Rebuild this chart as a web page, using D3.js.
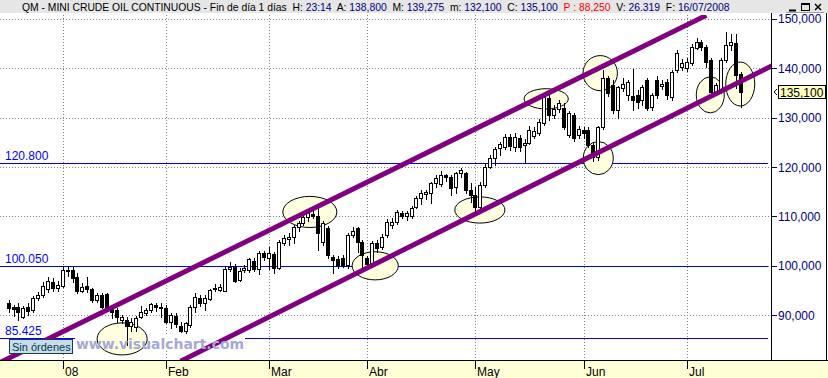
<!DOCTYPE html>
<html>
<head>
<meta charset="utf-8">
<script src="https://d3js.org/d3.v7.min.js"></script>
<style>
  html, body { margin: 0; padding: 0; background: #fff; }
  svg { display: block; }
</style>
</head>
<body>
<div id="chart"></div>
<script>
// Daily bars, Dec 2007 .. 16/07/2008 (index 0 = first visible December bar)
const opens = [92.4, 91.6, 91.6, 89.6, 91.6, 91.0, 93.4, 94.0, 95.4, 96.7, 95.6,
  96.0, 99.0, 99.1, 97.7, 95.0, 96.0, 95.4, 93.0, 94.0, 94.2,
  91.6, 91.0, 89.0, 89.0, 87.9, 87.6, 89.6, 90.4, 91.0, 92.0,
  91.6, 91.4, 88.6, 89.8, 87.9, 86.9, 88.0, 91.6, 93.4, 92.4,
  93.2, 95.4, 95.2, 95.0, 99.4, 99.8, 97.1, 99.1, 99.2, 101.0,
  99.4, 102.5, 101.5, 102.3, 99.6, 104.6, 105.4, 105.8, 107.8, 108.6,
  109.8, 110.4, 110.0, 104.8, 107.6, 101.7, 101.4, 101.6, 100.1, 106.2,
  107.6, 104.8, 101.5, 100.5, 104.6, 103.8, 106.2, 108.2, 108.8, 110.6,
  110.0, 110.0, 112.0, 113.8, 114.6, 114.8, 116.8, 116.6, 118.4, 118.0,
  115.9, 118.8, 118.8, 115.3, 114.3, 112.0, 116.3, 120.0, 121.8, 123.8,
  124.0, 126.0, 124.0, 125.8, 124.4, 124.9, 126.2, 126.9, 128.9, 134.0,
  130.5, 131.7, 132.0, 126.5, 130.5, 126.5, 127.5, 127.5, 124.4, 122.0,
  128.1, 138.0, 136.6, 131.5, 135.9, 134.6, 134.4, 134.6, 133.6, 137.6,
  132.2, 137.6, 136.4, 137.2, 134.2, 139.7, 140.3, 140.1, 141.1, 144.1,
  145.3, 144.3, 141.7, 135.2, 135.4, 141.7, 144.7, 145.1, 138.8];
const highs = [93.0, 92.0, 92.4, 91.8, 92.4, 93.8, 94.6, 96.7, 97.7, 97.5, 97.0,
  99.9, 100.05, 99.7, 98.5, 96.5, 97.7, 95.6, 94.4, 94.4, 94.4,
  92.0, 91.4, 90.0, 89.6, 89.4, 89.8, 91.8, 91.4, 92.4, 92.4,
  92.4, 92.0, 90.4, 90.4, 88.6, 88.6, 92.0, 94.4, 94.0, 94.0,
  95.4, 96.4, 96.4, 99.9, 100.7, 100.4, 99.6, 100.2, 101.5, 101.5,
  103.0, 103.0, 103.8, 102.8, 105.2, 106.2, 106.6, 108.2, 109.0, 110.2,
  111.0, 111.3, 111.8, 109.0, 108.0, 102.1, 102.0, 102.1, 106.6, 107.8,
  107.8, 105.2, 102.0, 105.0, 105.2, 106.4, 109.4, 109.6, 111.2, 111.0,
  111.0, 112.2, 114.2, 115.4, 115.4, 117.0, 118.4, 119.2, 118.6, 118.4,
  119.0, 119.8, 119.0, 116.7, 115.9, 116.9, 120.6, 122.4, 124.0, 125.0,
  126.7, 126.6, 126.9, 126.4, 125.6, 128.4, 128.0, 129.8, 134.6, 135.0,
  132.6, 133.6, 133.0, 131.4, 131.0, 128.3, 128.0, 128.0, 125.0, 128.3,
  139.6, 138.4, 137.6, 136.4, 138.0, 137.6, 139.9, 135.6, 136.6, 138.0,
  135.0, 138.4, 137.6, 137.8, 139.6, 143.6, 141.9, 142.1, 144.8, 146.1,
  145.7, 144.7, 142.1, 137.0, 142.1, 147.3, 147.0, 147.0, 139.275];
const lows = [90.6, 89.8, 89.0, 89.4, 90.0, 90.6, 93.0, 93.6, 94.6, 95.0, 94.8,
  95.8, 97.9, 96.7, 94.4, 94.6, 94.6, 92.6, 92.6, 91.4, 91.0,
  89.4, 88.6, 88.4, 83.9, 86.9, 86.9, 89.4, 90.0, 90.6, 90.8,
  89.6, 88.4, 87.5, 87.6, 86.5, 86.3, 87.7, 90.6, 91.8, 91.0,
  93.0, 95.0, 94.8, 94.8, 99.0, 96.7, 96.9, 98.7, 98.7, 98.9,
  98.4, 101.2, 99.4, 98.6, 99.4, 104.2, 104.2, 104.6, 107.0, 108.2,
  109.0, 109.6, 103.2, 104.2, 101.6, 98.5, 99.6, 99.7, 99.6, 105.8,
  102.7, 99.1, 99.6, 99.8, 102.8, 103.4, 105.8, 107.6, 108.4, 109.6,
  109.2, 109.6, 111.6, 112.6, 113.6, 112.8, 116.0, 116.2, 117.2, 114.3,
  114.7, 118.0, 114.7, 112.9, 110.2, 111.3, 115.9, 119.8, 120.4, 122.4,
  123.6, 123.4, 123.2, 123.2, 120.8, 124.6, 125.8, 126.5, 128.5, 129.6,
  129.9, 131.2, 127.7, 126.1, 125.3, 125.9, 125.9, 124.0, 121.2, 121.4,
  127.7, 134.4, 131.0, 130.0, 135.4, 133.6, 131.5, 131.9, 132.6, 131.5,
  131.5, 134.0, 135.8, 133.8, 133.6, 139.2, 139.7, 139.5, 140.7, 143.9,
  143.7, 140.3, 134.4, 134.8, 135.0, 141.3, 143.7, 136.0, 132.1];
const closes = [91.4, 91.2, 90.6, 91.4, 90.8, 93.4, 94.0, 96.0, 96.9, 95.6, 96.2,
  99.1, 99.2, 97.5, 95.0, 95.8, 95.4, 93.0, 94.0, 91.6, 91.4,
  90.6, 89.6, 89.6, 87.9, 88.6, 89.4, 90.6, 91.0, 92.2, 91.6,
  91.4, 88.6, 90.0, 88.2, 86.9, 88.4, 91.6, 93.6, 92.4, 93.4,
  95.2, 95.6, 95.8, 99.4, 99.8, 97.0, 99.0, 99.6, 101.3, 99.4,
  102.5, 101.7, 102.5, 99.6, 104.8, 105.6, 105.8, 107.8, 108.6, 109.8,
  110.6, 110.0, 106.6, 108.6, 102.1, 101.1, 100.1, 100.2, 106.2, 107.0,
  104.8, 102.1, 100.4, 104.6, 103.6, 105.8, 108.8, 108.8, 110.9, 110.0,
  110.6, 111.8, 113.8, 114.8, 115.0, 116.8, 117.8, 118.4, 118.0, 115.7,
  118.8, 119.4, 115.3, 114.3, 111.9, 116.4, 120.0, 121.8, 123.6, 124.6,
  126.0, 124.2, 126.0, 124.0, 124.8, 127.5, 127.2, 129.1, 134.2, 130.5,
  131.7, 133.0, 128.1, 130.9, 125.9, 127.7, 126.9, 124.4, 122.0, 128.1,
  138.0, 135.0, 131.5, 136.2, 136.8, 137.2, 133.6, 133.2, 136.2, 131.9,
  134.6, 134.6, 136.8, 134.6, 139.2, 143.1, 141.1, 141.3, 144.3, 145.3,
  144.3, 141.3, 135.2, 136.6, 141.7, 144.7, 145.3, 138.6, 135.1];

const monthTickIndex = [11, 32, 53, 73, 95, 117, 138];
const monthLabels = ["08", "Feb", "Mar", "Abr", "May", "Jun", "Jul"];
const priceTicks = [90, 100, 110, 120, 130, 140, 150];
const levelValues = [120.8, 100.05, 85.425];
const levelLabels = ["120.800", "100.050", "85.425"];
// channel anchors: [bar index, price]
const upperChannel = [[-2, 80.3], [142, 150.7]];
const lowerChannel = [[35, 80.7], [156, 140.8]];
// marked zones: [bar index, price, half width in bars, half height in price]
const zones = [[23.1, 85.2, 5.1, 3.25], [61.3, 110.9, 5.5, 3.15], [74.6, 100.0, 4.7, 2.85],
  [95.9, 111.3, 5.1, 2.65], [109.4, 133.8, 4.5, 2.05], [120.4, 139.0, 3.5, 3.55],
  [120.0, 121.8, 3.05, 3.35], [142.8, 134.6, 2.85, 3.65], [148.9, 136.8, 2.95, 4.45]];
const lastPrice = 135.1;
const headerParts = [
  ["QM - MINI CRUDE OIL CONTINUOUS - Fin de día 1 días  H: ", "#000"], ["23:14", "#000080"],
  ["  A: ", "#000"], ["138,800", "#000080"], ["  M: ", "#000"], ["139,275", "#000080"],
  ["  m: ", "#000"], ["132,100", "#000080"], ["  C: ", "#000"], ["135,100", "#000080"],
  ["  P : 88,250", "#ff0000"], ["  V: ", "#000"], ["26.319", "#000080"],
  ["  F: ", "#000"], ["16/07/2008", "#000080"]];

const width = 828, height = 378;
const plot = { left: 0, right: 771, top: 15, bottom: 360 };
const font = "'Liberation Sans', Arial, sans-serif";
const fmt = v => d3.format(".3f")(v).replace(".", ",");

const x = d3.scaleLinear().domain([11, 138]).range([62.7, 686.7]);
const y = d3.scaleLinear().domain([80, 150]).range([364.6, 18.8]);

const svg = d3.select("#chart").append("svg")
  .attr("width", width).attr("height", height)
  .style("font-family", font);

svg.append("rect").attr("width", width).attr("height", height).attr("fill", "#fff");

svg.append("clipPath").attr("id", "plot-clip")
  .append("rect")
  .attr("x", plot.left).attr("y", plot.top)
  .attr("width", plot.right - plot.left).attr("height", plot.bottom - plot.top);

const g = svg.append("g").attr("clip-path", "url(#plot-clip)");

// dotted grid
g.selectAll(".hgrid").data(priceTicks).join("line")
  .attr("x1", plot.left).attr("x2", plot.right)
  .attr("y1", d => Math.round(y(d)) + 0.5).attr("y2", d => Math.round(y(d)) + 0.5)
  .attr("stroke", "#808080").attr("stroke-dasharray", "1,2");
g.selectAll(".vgrid").data(monthTickIndex).join("line")
  .attr("x1", d => Math.round(x(d)) + 0.5).attr("x2", d => Math.round(x(d)) + 0.5)
  .attr("y1", plot.top).attr("y2", plot.bottom)
  .attr("stroke", "#808080").attr("stroke-dasharray", "1,2");

// horizontal levels
levelValues.forEach((v, i) => {
  const ly = Math.round(y(v)) + 0.5;
  g.append("line")
    .attr("x1", plot.left).attr("x2", plot.right - 3)
    .attr("y1", ly).attr("y2", ly)
    .attr("stroke", "#0000ff");
  g.append("text")
    .attr("x", 5).attr("y", ly - 4)
    .attr("font-size", "12px").attr("fill", "#0000ff")
    .text(levelLabels[i]);
});

// watermark background
g.append("rect").attr("x", 75).attr("y", 335).attr("width", 170).attr("height", 16).attr("fill", "#fff");

// marked zones
g.selectAll(".zone").data(zones).join("ellipse")
  .attr("cx", d => x(d[0])).attr("cy", d => y(d[1]))
  .attr("rx", d => x(d[0] + d[2]) - x(d[0]))
  .attr("ry", d => y(d[1] - d[3]) - y(d[1]))
  .attr("fill", "#ffffe0").attr("stroke", "#000").attr("stroke-width", 1);

// candles
const bars = d3.range(opens.length);
const cand = g.selectAll(".candle").data(bars).join("g");
cand.append("line")
  .attr("x1", i => Math.round(x(i)) + 0.5).attr("x2", i => Math.round(x(i)) + 0.5)
  .attr("y1", i => Math.round(y(highs[i]))).attr("y2", i => Math.round(y(lows[i])) + 1)
  .attr("stroke", "#000");
cand.append("rect")
  .attr("x", i => Math.round(x(i)) - 1.5)
  .attr("width", 3)
  .attr("y", i => Math.round(y(Math.max(opens[i], closes[i]))) + 0.5)
  .attr("height", i => Math.max(1, Math.round(y(Math.min(opens[i], closes[i]))) - Math.round(y(Math.max(opens[i], closes[i])))))
  .attr("fill", i => closes[i] >= opens[i] ? "#fff" : "#000")
  .attr("stroke", "#000");

// channel
const line = d3.line().x(d => x(d[0])).y(d => y(d[1]));
[upperChannel, lowerChannel].forEach(c => {
  g.append("path").attr("d", line(c))
    .attr("fill", "none").attr("stroke", "#800080").attr("stroke-width", 5);
});

// watermark
g.append("text")
  .attr("x", 76).attr("y", 349)
  .attr("font-family", "'DejaVu Sans', Verdana, sans-serif")
  .attr("font-weight", "bold").attr("font-size", "14px")
  .attr("fill", "#a4a9d4")
  .attr("textLength", 168).attr("lengthAdjust", "spacingAndGlyphs")
  .text("www.visualchart.com");

// order status box
svg.append("rect").attr("x", 9.5).attr("y", 339.5).attr("width", 63).attr("height", 14)
  .attr("fill", "#c6dce8").attr("stroke", "#1c3a48");
svg.append("text").attr("x", 12).attr("y", 350.5)
  .attr("font-size", "11px").attr("fill", "#003848")
  .text("Sin órdenes");

// right price axis
svg.append("rect").attr("x", plot.right).attr("y", plot.top - 2)
  .attr("width", width - plot.right).attr("height", plot.bottom - plot.top + 2).attr("fill", "#fff");
svg.append("line").attr("x1", plot.right + 0.5).attr("x2", plot.right + 0.5)
  .attr("y1", plot.top - 2).attr("y2", plot.bottom).attr("stroke", "#000");
svg.append("line").attr("x1", width - 1.5).attr("x2", width - 1.5)
  .attr("y1", plot.top - 2).attr("y2", plot.bottom).attr("stroke", "#000");

const axisG = svg.append("g");
axisG.selectAll(".ptick").data(priceTicks).join("line")
  .attr("x1", plot.right + 1).attr("x2", plot.right + 6)
  .attr("y1", d => Math.round(y(d)) + 0.5).attr("y2", d => Math.round(y(d)) + 0.5)
  .attr("stroke", "#000080");
axisG.selectAll(".plabel").data(priceTicks).join("text")
  .attr("x", plot.right + 7).attr("y", d => y(d) + 4.5)
  .attr("font-size", "12px").attr("fill", "#000080")
  .text(d => fmt(d));

// last price marker
const ly = Math.round(y(lastPrice));
svg.append("path")
  .attr("d", `M${plot.right + 6},${ly - 3}L${plot.right + 3},${ly}L${plot.right + 6},${ly + 3}`)
  .attr("fill", "none").attr("stroke", "#000");
svg.append("rect").attr("x", plot.right + 7.5).attr("y", ly - 6.5)
  .attr("width", 47).attr("height", 13)
  .attr("fill", "#ffffc0").attr("stroke", "#000");
svg.append("text").attr("x", plot.right + 9).attr("y", ly + 4.5)
  .attr("font-size", "12px").attr("fill", "#000")
  .text(fmt(lastPrice));

// bottom time axis
svg.append("rect").attr("x", 0).attr("y", plot.bottom).attr("width", width).attr("height", height - plot.bottom)
  .attr("fill", "#ffffd6");
svg.append("line").attr("x1", 0).attr("x2", width).attr("y1", plot.bottom + 0.5).attr("y2", plot.bottom + 0.5)
  .attr("stroke", "#000");
const xAxis = svg.append("g");
xAxis.selectAll(".mtick").data(monthTickIndex).join("line")
  .attr("x1", d => Math.round(x(d)) + 0.5).attr("x2", d => Math.round(x(d)) + 0.5)
  .attr("y1", plot.bottom).attr("y2", plot.bottom + 9)
  .attr("stroke", "#000");
xAxis.selectAll(".mlabel").data(monthTickIndex).join("text")
  .attr("x", d => Math.round(x(d)) + 2).attr("y", 376)
  .attr("font-size", "12px").attr("fill", "#000")
  .text((d, i) => monthLabels[i]);

// header bar
svg.append("rect").attr("x", 0).attr("y", 0).attr("width", width).attr("height", plot.top - 2)
  .attr("fill", "#e6e6e6");
const title = svg.append("text")
  .attr("x", 22).attr("y", 11)
  .attr("font-size", "11px")
  .attr("xml:space", "preserve")
  .style("white-space", "pre");
headerParts.forEach(p => title.append("tspan").attr("fill", p[1]).text(p[0]));
// fit header to the width it takes in the window bar
const titleWidth = title.node().getComputedTextLength();
if (titleWidth > 0) title.attr("font-size", (11 * 708 / titleWidth).toFixed(2) + "px");

// window buttons
const btn = svg.append("g").attr("stroke", "#000").attr("fill", "none");
btn.append("line").attr("x1", 789).attr("x2", 796).attr("y1", 10.5).attr("y2", 10.5).attr("stroke-width", 2);
btn.append("rect").attr("x", 801.5).attr("y", 3.5).attr("width", 8).attr("height", 7);
btn.append("line").attr("x1", 801.5).attr("x2", 809.5).attr("y1", 4.5).attr("y2", 4.5);
btn.append("path").attr("d", "M815,4L821,10M821,4L815,10").attr("stroke-width", 1.5);
btn.append("line").attr("x1", 786).attr("x2", 824).attr("y1", 12.5).attr("y2", 12.5).attr("stroke", "#a0a0a0");
</script>
</body>
</html>
